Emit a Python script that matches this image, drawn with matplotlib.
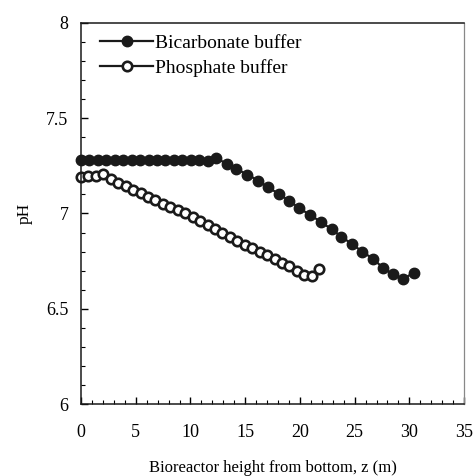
import matplotlib
matplotlib.use("Agg")
import matplotlib.pyplot as plt
from matplotlib.ticker import MultipleLocator
import numpy as np

# bicarbonate buffer: flat section then decline
bic_z = [0.0, 0.77, 1.54, 2.31, 3.08, 3.86, 4.63, 5.40, 6.17, 6.94, 7.71, 8.48, 9.26,
         10.03, 10.80, 11.57, 12.34, 13.30, 14.17, 15.20, 16.20, 17.10, 18.10, 19.04,
         19.95, 20.93, 21.90, 22.90, 23.80, 24.75, 25.70, 26.66, 27.60, 28.50, 29.45, 30.40]
bic_ph = [7.278, 7.278, 7.278, 7.278, 7.278, 7.278, 7.278, 7.278, 7.278, 7.278, 7.278,
          7.278, 7.278, 7.278, 7.278, 7.276, 7.290, 7.262, 7.234, 7.204, 7.172, 7.137,
          7.102, 7.066, 7.028, 6.992, 6.957, 6.917, 6.878, 6.840, 6.800, 6.763, 6.715,
          6.680, 6.656, 6.690]

# phosphate buffer
pho_z = [0.0, 0.68, 1.36, 2.04, 2.72, 3.40, 4.08, 4.76, 5.44, 6.12, 6.80, 7.48, 8.16,
         8.84, 9.52, 10.20, 10.88, 11.56, 12.24, 12.92, 13.60, 14.28, 14.96, 15.64,
         16.32, 17.00, 17.68, 18.36, 19.04, 19.72, 20.40, 21.08, 21.76]
pho_ph = [7.190, 7.197, 7.199, 7.205, 7.182, 7.162, 7.143, 7.123, 7.105, 7.088, 7.070,
          7.052, 7.036, 7.019, 7.002, 6.983, 6.962, 6.940, 6.918, 6.898, 6.877, 6.857,
          6.836, 6.817, 6.799, 6.781, 6.762, 6.742, 6.722, 6.700, 6.678, 6.670, 6.709]

plt.rcParams['font.family'] = ['Liberation Serif', 'DejaVu Serif']

fig = plt.figure(figsize=(4.74, 4.76), dpi=100)
ax = fig.add_axes([0.171, 0.151, 0.808, 0.801])

ax.plot(bic_z, bic_ph, color='#1a1a1a', lw=1.6, marker='o', ms=7.5,
        mfc='#1a1a1a', mec='#1a1a1a', label='Bicarbonate buffer', clip_on=False)
ax.plot(pho_z, pho_ph, color='#1a1a1a', lw=1.6, marker='o', ms=6.8,
        mfc='white', mec='#1a1a1a', mew=1.9, label='Phosphate buffer', clip_on=False)

ax.set_xlim(0, 35)
ax.set_ylim(6, 8)
ax.xaxis.set_major_locator(MultipleLocator(5))
ax.xaxis.set_minor_locator(MultipleLocator(1))
ax.yaxis.set_major_locator(MultipleLocator(0.5))
ax.yaxis.set_minor_locator(MultipleLocator(0.1))
ax.set_yticks([6, 6.5, 7, 7.5, 8])
ax.set_yticklabels(['6', '6.5', '7', '7.5', '8'])

ax.tick_params(which='both', direction='in', top=False, right=False, labelsize=13)
ax.tick_params(which='major', length=5, width=1)
ax.tick_params(which='minor', length=3, width=0.8)
ax.tick_params(axis='x', which='major', pad=14)
ax.tick_params(axis='y', which='major', pad=9)

for s in ['left', 'bottom', 'top']:
    ax.spines[s].set_linewidth(1.1)
    ax.spines[s].set_color('#1a1a1a')
ax.spines['right'].set_color('#888888')
ax.spines['right'].set_linewidth(0.9)
ax.spines['right'].set_linestyle((0, (2, 1)))

ax.set_xlabel('Bioreactor height from bottom, z (m)', fontsize=12, labelpad=14)
ax.set_ylabel('pH', fontsize=12.5, labelpad=10)

ax.legend(loc='upper left', frameon=False, fontsize=14, handlelength=2.7,
          handletextpad=0.1, borderaxespad=0.2, labelspacing=0.35,
          bbox_to_anchor=(0.02, 1.0))

fig.savefig('out.png', dpi=100)
